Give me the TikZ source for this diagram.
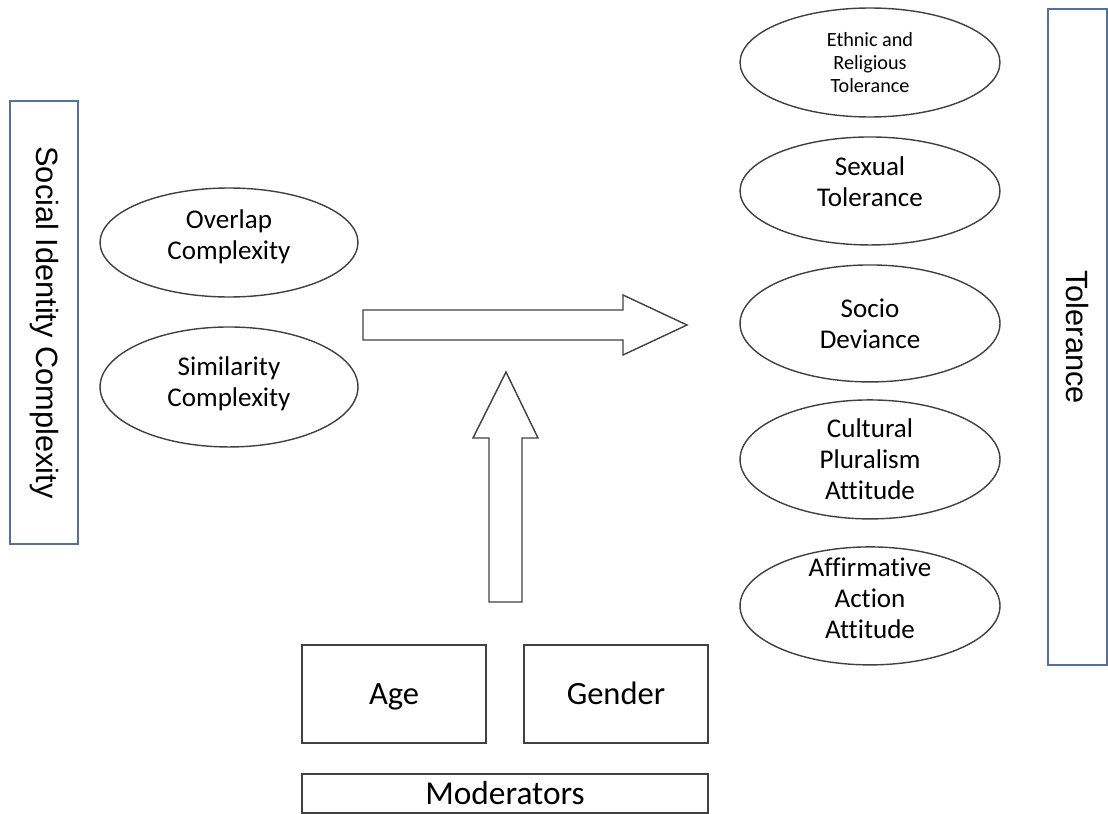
\documentclass[tikz,border=0pt]{standalone}
\usepackage{fontspec}
\setmainfont{Carlito}[Ligatures=NoCommon]
\newfontfamily\sidefont{Liberation Sans}
\usetikzlibrary{shapes,positioning}

\definecolor{shapegray}{RGB}{64,64,64}
\definecolor{sideblue}{RGB}{86,112,156}

\begin{document}
\begin{tikzpicture}[x=0.02cm, y=-0.02cm, line width=0.8pt,
    every node/.style={inner sep=0pt, outer sep=0pt},
    ell/.style={ellipse, draw=shapegray, minimum width=5.2cm},
    elltext/.style={align=center, font=\fontsize{15.4}{17.6}\selectfont},
    modbox/.style={rectangle, draw=shapegray, minimum width=3.68cm, minimum height=1.96cm,
                   text height=11.9pt, text depth=0pt,
                   font=\fontsize{18.5}{22}\selectfont},
    sidebox/.style={rectangle, draw=sideblue, rotate=-90,
                    font=\sidefont\fontsize{17.5}{21}\selectfont}]
   \useasboundingbox (0,0) rectangle (1108,814);

   % side boxes
   \node[sidebox, minimum width=8.86cm, minimum height=1.36cm] (sic) at (44,322.5) {Social Identity Complexity};
   \node[sidebox, minimum width=13.12cm, minimum height=1.18cm] (tol) at (1077.5,337) {Tolerance};

   % predictors
   \node[ell, minimum width=5.16cm, minimum height=2.18cm,
         label={[elltext, yshift=0.12cm]center:{Overlap\\Complexity}}] (overlap) at (229,242.5) {};
   \node[ell, minimum width=5.16cm, minimum height=2.4cm,
         label={[elltext, yshift=0.06cm]center:{Similarity\\Complexity}}] (similar) [below=0.6cm of overlap] {};

   % outcomes
   \node[ell, minimum height=2.18cm,
         label={[elltext, font=\fontsize{11.5}{13.3}\selectfont]center:{Ethnic and\\Religious\\Tolerance}}] (ethnic) at (870,62.5) {};
   \node[ell, minimum height=2.16cm,
         label={[elltext, yshift=0.18cm]center:{Sexual\\Tolerance}}] (sexual) [below=0.4cm of ethnic] {};
   \node[ell, minimum height=2.34cm,
         label={[elltext]center:{Socio\\Deviance}}] (socio) [below=0.4cm of sexual] {};
   \node[ell, minimum height=2.38cm,
         label={[elltext]center:{Cultural\\Pluralism\\Attitude}}] (cultural) [below=0.36cm of socio] {};
   \node[ell, minimum height=2.36cm,
         label={[elltext, yshift=0.16cm]center:{Affirmative\\Action\\Attitude}}] (affirm) [below=0.56cm of cultural] {};

   % moderators
   \node[modbox] (age) at (394,694) {Age};
   \node[modbox] (gender) [right=0.76cm of age] {Gender};
   \node[rectangle, draw=shapegray, minimum width=8.12cm, minimum height=0.78cm,
         text height=12.2pt, text depth=0pt,
         font=\fontsize{19}{22}\selectfont] (moderators) at (505,793.5) {Moderators};

   % block arrows
   \draw[shapegray, line join=miter] (363,310) -- (623,310) -- (623,295) -- (687,325)
      -- (623,355) -- (623,340) -- (363,340) -- cycle;
   \draw[shapegray, line join=miter] (489,602) -- (489,438) -- (473,438) -- (506,372)
      -- (538,438) -- (522,438) -- (522,602) -- cycle;

\end{tikzpicture}
\end{document}
